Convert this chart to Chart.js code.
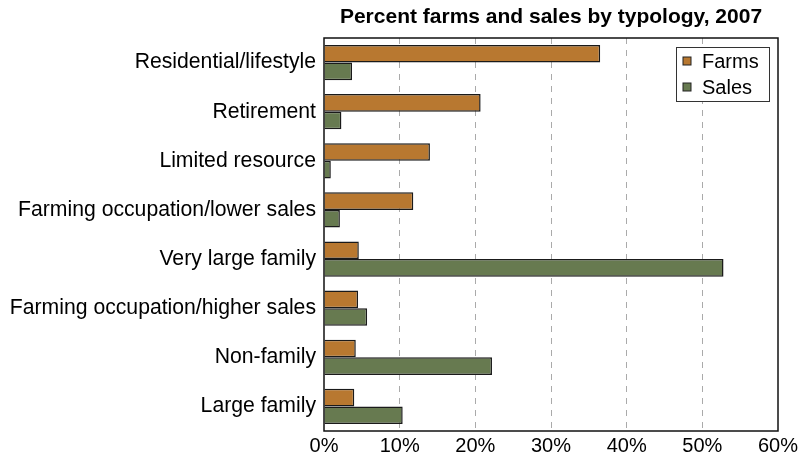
<!DOCTYPE html>
<html lang="en">
<head>
    <meta charset="UTF-8">
    <title>Percent farms and sales by typology, 2007</title>
    <script src="https://cdn.jsdelivr.net/npm/chart.js"></script>
    <style>
        body { margin: 0; padding: 0; background: #fff; }
        #wrap { width: 799px; height: 459px; }
    </style>
</head>
<body>
    <div id="wrap"><canvas id="farmChart"></canvas></div>

    <script>
        const categories = [
            'Residential/lifestyle',
            'Retirement',
            'Limited resource',
            'Farming occupation/lower sales',
            'Very large family',
            'Farming occupation/higher sales',
            'Non-family',
            'Large family'
        ];
        const farms = [36.5, 20.7, 14.0, 11.8, 4.6, 4.5, 4.2, 4.0];
        const sales = [3.7, 2.3, 0.9, 2.1, 52.8, 5.7, 22.2, 10.4];
        const xTicks = [0, 10, 20, 30, 40, 50, 60];
        const chartTitle = 'Percent farms and sales by typology, 2007';

        const FONT = '"Liberation Sans", Arial, Helvetica, sans-serif';

        // frame, title and the boxed legend inside the plot
        const extras = {
            id: 'extras',
            afterDatasetsDraw(chart) {
                const a = chart.chartArea;
                const ctx = chart.ctx;
                ctx.save();
                ctx.strokeStyle = '#111';
                ctx.lineWidth = 1.5;
                ctx.strokeRect(a.left, a.top, a.right - a.left, a.bottom - a.top);

                ctx.fillStyle = '#000';
                ctx.font = 'bold 21px ' + FONT;
                ctx.textAlign = 'center';
                ctx.textBaseline = 'middle';
                ctx.fillText(chartTitle, (a.left + a.right) / 2, 17);

                // legend
                const lx = 676, ly = 47, lw = 93, lh = 54;
                ctx.fillStyle = '#fff';
                ctx.fillRect(lx, ly, lw, lh);
                ctx.strokeStyle = '#333';
                ctx.lineWidth = 1;
                ctx.strokeRect(lx + 0.5, ly + 0.5, lw, lh);
                ctx.font = '20px ' + FONT;
                ctx.textAlign = 'left';
                chart.data.datasets.forEach((ds, i) => {
                    const cy = ly + 14 + i * 26;
                    ctx.fillStyle = ds.backgroundColor;
                    ctx.fillRect(lx + 7, cy - 4, 8, 8);
                    ctx.strokeStyle = '#222';
                    ctx.strokeRect(lx + 7, cy - 4, 8, 8);
                    ctx.fillStyle = '#000';
                    ctx.fillText(ds.label, lx + 26, cy + 1);
                });
                ctx.restore();
            }
        };

        new Chart(document.getElementById('farmChart'), {
            type: 'bar',
            data: {
                labels: categories,
                datasets: [
                    {
                        label: 'Farms',
                        data: farms,
                        backgroundColor: '#B87830',
                        borderColor: '#1a1a1a',
                        borderWidth: 1.5
                    },
                    {
                        label: 'Sales',
                        data: sales,
                        backgroundColor: '#677A50',
                        borderColor: '#1a1a1a',
                        borderWidth: 1.5
                    }
                ]
            },
            options: {
                indexAxis: 'y',
                responsive: true,
                maintainAspectRatio: false,
                animation: false,
                layout: { padding: { top: 38, right: 21, left: 0, bottom: 0 } },
                datasets: {
                    bar: { categoryPercentage: 0.72, barPercentage: 1.0 }
                },
                plugins: {
                    legend: { display: false },
                    title: { display: false },
                    tooltip: { enabled: false }
                },
                scales: {
                    x: {
                        min: 0,
                        max: 60,
                        afterBuildTicks(scale) {
                            scale.ticks = xTicks.map(v => ({ value: v }));
                        },
                        afterFit(scale) {
                            scale.height = 28;
                            scale.paddingRight = 0;
                            scale.paddingLeft = 0;
                        },
                        ticks: {
                            callback: v => v + '%',
                            color: '#000',
                            font: { family: FONT, size: 20 },
                            padding: 3,
                            maxRotation: 0
                        },
                        grid: {
                            color: ctx => (ctx.tick && (ctx.tick.value === 0 || ctx.tick.value === 60)) ? 'rgba(0,0,0,0)' : '#aaaaaa',
                            lineWidth: 1,
                            drawTicks: false
                        },
                        border: { display: false, dash: [6, 6] }
                    },
                    y: {
                        afterFit(scale) { scale.width = 324; },
                        ticks: {
                            color: '#000',
                            font: { family: FONT, size: 21.2 },
                            padding: 8
                        },
                        grid: { display: false, drawTicks: false },
                        border: { display: false }
                    }
                }
            },
            plugins: [extras]
        });
    </script>
</body>
</html>
